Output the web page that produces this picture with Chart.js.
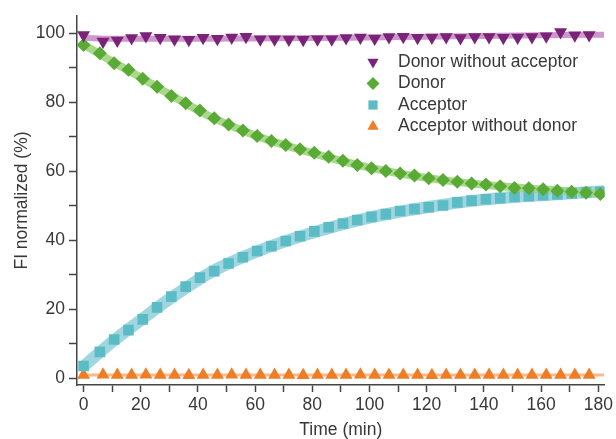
<!DOCTYPE html>
<html>
<head>
<meta charset="utf-8">
<script src="https://cdn.jsdelivr.net/npm/chart.js@4.4.1/dist/chart.umd.min.js"></script>
<style>
  html, body { margin: 0; padding: 0; background: #fff; }
</style>
</head>
<body>
<canvas id="myChart" width="616" height="439"></canvas>
<script>
// measurement times (min)
const timeMain = [0, 5.7, 10.7, 15.7, 20.7, 25.7, 30.7, 35.7, 40.7, 45.7, 50.7, 55.7, 60.7, 65.7, 70.7, 75.7,
  80.7, 85.7, 90.7, 95.7, 100.7, 105.7, 110.7, 115.7, 120.7, 125.7, 130.7, 135.7, 140.7, 145.7, 150.7,
  155.7, 160.7, 165.7, 170.7, 175.7, 180.7];
const timeControl = [0, 6.8, 11.8, 16.8, 21.8, 26.8, 31.8, 36.8, 41.8, 46.8, 51.8, 56.8, 61.8, 66.8, 71.8,
  76.8, 81.8, 86.8, 91.8, 96.8, 101.8, 106.8, 111.8, 116.8, 121.8, 126.8, 131.8, 136.8, 141.8, 146.8,
  151.8, 156.8, 161.8, 166.8, 171.8, 176.8];

// FI normalized (%)
const donorNoAcceptor = [99.5, 97.6, 97.9, 98.6, 99.2, 98.7, 98.3, 98.1, 98.7, 98.4, 98.8, 99.0, 98.3, 98.3,
  98.2, 98.1, 98.3, 98.3, 98.6, 98.8, 98.5, 98.9, 99.0, 98.7, 98.8, 98.9, 98.6, 98.9, 98.9, 98.7, 98.8,
  98.9, 99.1, 100.4, 99.4, 99.5];
const donor = [96.6, 94.2, 91.3, 89.4, 86.8, 84.5, 81.8, 79.7, 77.6, 75.4, 73.6, 71.8, 70.2, 68.8, 67.6,
  66.4, 65.4, 64.2, 63.1, 61.8, 60.9, 60.1, 59.4, 58.8, 58.0, 57.5, 57.0, 56.5, 56.2, 55.7, 55.2, 55.1,
  54.8, 54.4, 54.1, 53.8, 53.4];
const acceptor = [3.6, 7.7, 11.3, 14.0, 17.1, 20.6, 23.7, 26.6, 29.2, 31.1, 33.3, 35.1, 36.9, 38.3, 39.8,
  41.2, 42.6, 43.8, 44.9, 45.9, 46.8, 47.6, 48.5, 49.1, 49.6, 50.1, 51.0, 51.5, 51.9, 52.2, 52.6, 52.8,
  53.1, 53.3, 53.6, 53.9, 54.1];
const acceptorNoDonor = [1.0, 1.1, 1.0, 1.0, 1.1, 1.0, 1.0, 0.9, 1.0, 1.0, 1.1, 1.0, 1.0, 1.0, 1.0, 0.9,
  1.0, 1.0, 1.0, 1.1, 1.0, 1.0, 1.0, 1.0, 0.9, 1.0, 1.0, 1.0, 1.0, 1.0, 1.0, 1.0, 1.0, 1.0, 1.0, 1.0];

// fitted curves (the wide pale bands)
const fitTime = [0, 10, 20, 30, 45, 60, 80, 100, 120, 140, 160, 182];
const fitDonorNoAcceptor = [98.7, 98.4, 98.4, 98.4, 98.4, 98.5, 98.6, 98.8, 99.0, 99.2, 99.4, 99.6];
const fitDonor = [96.8, 91.8, 87.2, 82.3, 75.6, 70.4, 65.3, 61.1, 58.1, 56.1, 54.8, 53.5];
const fitAcceptor = [3.5, 10.6, 16.9, 23.0, 31.0, 36.6, 42.2, 46.6, 49.6, 51.8, 53.1, 54.2];
const fitAcceptorNoDonor = [1.0, 1.0, 1.0, 1.0, 1.0, 1.0, 1.0, 1.0, 1.0, 1.0, 1.0, 1.0];

const seriesNames = ['Donor without acceptor', 'Donor', 'Acceptor', 'Acceptor without donor'];
const xTicks = [0, 10, 20, 30, 40, 50, 60, 70, 80, 90, 100, 110, 120, 130, 140, 150, 160, 170, 180];
const yTicks = [0, 10, 20, 30, 40, 50, 60, 70, 80, 90, 100];

const markerColors = ['#7a2379', '#5aab36', '#5cbcc6', '#ef7d25'];
const bandColors = ['rgba(196,134,194,0.85)', 'rgba(160,212,128,0.9)', 'rgba(150,210,220,0.9)', 'rgba(246,176,126,0.9)'];
const markerStyles = ['triangle', 'rectRot', 'rect', 'triangle'];
const markerRotation = [180, 0, 0, 0];
const markerRadius = [7.5, 7, 7.5, 7.5];
const bandWidths = [6, 8, 12, 3];

const FONT = '"Liberation Sans", Arial, sans-serif';
const TEXT = '#383838';
const AXIS = '#444444';

const pts = (xs, ys) => xs.map((x, i) => ({ x: x, y: ys[i] }));

const pointSets = [pts(timeControl, donorNoAcceptor), pts(timeMain, donor),
  pts(timeMain, acceptor), pts(timeControl, acceptorNoDonor)];
const fitSets = [fitDonorNoAcceptor, fitDonor, fitAcceptor, fitAcceptorNoDonor].map(f => pts(fitTime, f));

const datasets = [];
fitSets.forEach((d, i) => {
  datasets.push({
    label: seriesNames[i] + ' fit',
    data: d,
    showLine: true,
    borderColor: bandColors[i],
    borderWidth: bandWidths[i],
    pointRadius: 0,
    tension: 0.4,
    cubicInterpolationMode: 'monotone',
    order: 10 + i
  });
});
pointSets.forEach((d, i) => {
  datasets.push({
    label: seriesNames[i],
    data: d,
    showLine: false,
    backgroundColor: markerColors[i],
    borderColor: markerColors[i],
    borderWidth: 0,
    pointStyle: markerStyles[i],
    rotation: markerRotation[i],
    pointRadius: markerRadius[i],
    order: 1 + i
  });
});

// legend drawn inside the plot, as in the original figure
const insideLegend = {
  id: 'insideLegend',
  afterDraw(chart) {
    const ctx = chart.ctx;
    ctx.save();
    ctx.font = '17.5px ' + FONT;
    ctx.textBaseline = 'middle';
    ctx.textAlign = 'left';
    seriesNames.forEach((name, i) => {
      const y = 62 + i * 21.5;
      ctx.fillStyle = markerColors[i];
      Chart.helpers.drawPoint(ctx, {
        pointStyle: markerStyles[i],
        radius: 6.5,
        rotation: markerRotation[i],
        borderWidth: 0
      }, 373, y);
      ctx.fillStyle = TEXT;
      ctx.fillText(name, 398, y);
    });
    ctx.restore();
  }
};

const graph = new Chart(document.getElementById('myChart'), {
  type: 'scatter',
  data: { datasets: datasets },
  plugins: [insideLegend],
  options: {
    responsive: false,
    animation: false,
    layout: { padding: { left: 0, top: 16, right: 9, bottom: 0 } },
    plugins: {
      legend: { display: false },
      tooltip: { enabled: false }
    },
    scales: {
      x: {
        type: 'linear',
        min: -2.3,
        max: 182.2,
        afterBuildTicks: s => { s.ticks = xTicks.map(v => ({ value: v })); },
        afterFit: s => { s.height = 54; },
        border: { color: AXIS, width: 1.5 },
        grid: { drawOnChartArea: false, color: AXIS, tickLength: 7, tickWidth: 1.5, tickColor: AXIS },
        ticks: {
          autoSkip: false,
          maxRotation: 0,
          padding: 3,
          color: TEXT,
          font: { size: 17.5, family: FONT },
          callback: v => (v % 20 === 0 ? v : '')
        },
        title: {
          display: true,
          text: 'Time (min)',
          color: TEXT,
          font: { size: 17.5, family: FONT, lineHeight: 1 },
          padding: { top: 0, bottom: 0 }
        }
      },
      y: {
        min: -1.9,
        max: 105.0,
        afterBuildTicks: s => { s.ticks = yTicks.map(v => ({ value: v })); },
        afterFit: s => { s.width = 77; },
        border: { color: AXIS, width: 1.5 },
        grid: { drawOnChartArea: false, color: AXIS, tickLength: 8, tickWidth: 1.5, tickColor: AXIS },
        ticks: {
          autoSkip: false,
          padding: 4,
          color: TEXT,
          font: { size: 17.5, family: FONT },
          callback: v => (v % 20 === 0 ? v : '')
        },
        title: {
          display: true,
          text: 'FI normalized (%)',
          color: TEXT,
          font: { size: 17.5, family: FONT },
          padding: { top: 12, bottom: 0 }
        }
      }
    }
  }
});
</script>
</body>
</html>
